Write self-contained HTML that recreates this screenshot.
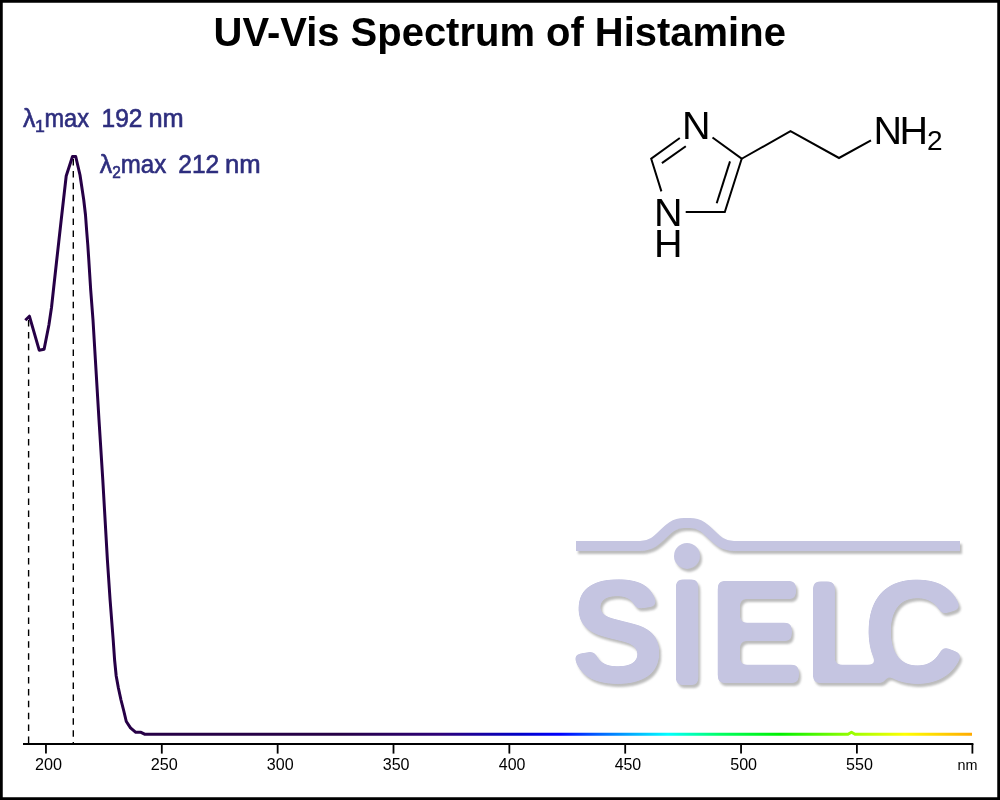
<!DOCTYPE html>
<html><head><meta charset="utf-8"><title>UV-Vis Spectrum of Histamine</title>
<style>
html,body{margin:0;padding:0;background:#fff;}
body{width:1000px;height:800px;overflow:hidden;}
svg{display:block;}
</style></head><body>
<svg width="1000" height="800" viewBox="0 0 1000 800">
<defs>
<linearGradient id="spec" gradientUnits="userSpaceOnUse" x1="0" y1="0" x2="1000" y2="0"><stop offset="0.0000" stop-color="#260046"/><stop offset="0.3400" stop-color="#260046"/><stop offset="0.4400" stop-color="#2d0078"/><stop offset="0.5200" stop-color="#0000c8"/><stop offset="0.5600" stop-color="#0000ff"/><stop offset="0.6000" stop-color="#0064ff"/><stop offset="0.6680" stop-color="#00ffff"/><stop offset="0.7200" stop-color="#00ff64"/><stop offset="0.7800" stop-color="#00f000"/><stop offset="0.8600" stop-color="#aaff00"/><stop offset="0.9050" stop-color="#ffff00"/><stop offset="0.9720" stop-color="#ffaa00"/><stop offset="1.0000" stop-color="#ffaa00"/></linearGradient>
<filter id="logo" x="560" y="505" width="420" height="200" filterUnits="userSpaceOnUse" color-interpolation-filters="sRGB">
<feGaussianBlur in="SourceAlpha" stdDeviation="1.1"/><feOffset dx="2.2" dy="2.8" result="so"/>
<feFlood flood-color="#8c8c8c" flood-opacity="0.58"/><feComposite in2="so" operator="in" result="shadow"/>
<feMerge><feMergeNode in="shadow"/><feMergeNode in="SourceGraphic"/></feMerge>
</filter>
<filter id="rnd" x="540" y="555" width="480" height="150" filterUnits="userSpaceOnUse" color-interpolation-filters="sRGB">
<feGaussianBlur in="SourceAlpha" stdDeviation="3.5" result="bl"/>
<feComponentTransfer in="bl" result="th"><feFuncA type="linear" slope="12" intercept="-5.5"/></feComponentTransfer>
<feFlood flood-color="#c5c5e1"/><feComposite in2="th" operator="in"/>
</filter>
</defs>
<rect x="0" y="0" width="1000" height="800" fill="#fff"/>

<g filter="url(#logo)" fill="#c5c5e1">
<path d="M576,546 L640,546 C662,546 664,523 684,523 L690,523 C710,523 712,546 734,546 L960,546" fill="none" stroke="#c5c5e1" stroke-width="10"/>
<circle cx="687" cy="555.9" r="13"/>
<text filter="url(#rnd)" transform="scale(0.955,1)" y="681.80" font-family="Liberation Sans, Arial, sans-serif" font-weight="bold" font-size="144.6" stroke="#c5c5e1" stroke-width="2.0" stroke-linejoin="round"><tspan x="597.73" textLength="97.60" lengthAdjust="spacingAndGlyphs">S</tspan><tspan x="698.79" dy="2.10" font-size="149.7">I</tspan><tspan x="742.64" dy="-2.10" textLength="98.52" lengthAdjust="spacingAndGlyphs">E</tspan><tspan x="842.64">L</tspan><tspan x="904.49" textLength="105.68" lengthAdjust="spacingAndGlyphs">C</tspan></text>
</g>

<text x="213.61" y="45.5" textLength="572.25" lengthAdjust="spacingAndGlyphs" font-family="Liberation Sans, Arial, sans-serif" font-weight="bold" font-size="41" fill="#000">UV-Vis Spectrum of Histamine</text>

<g font-family="Liberation Sans, Arial, sans-serif" font-size="25" fill="#2e2e7e" stroke="#2e2e7e" stroke-width="0.6">
<text y="126.60"><tspan x="23.03" textLength="12.39" lengthAdjust="spacingAndGlyphs">λ</tspan><tspan x="35.06" textLength="9.80" lengthAdjust="spacingAndGlyphs" font-size="16" dy="5.2">1</tspan><tspan x="44.43" textLength="44.62" lengthAdjust="spacingAndGlyphs" dy="-5.2">max</tspan><tspan x="101.53" textLength="40.90" lengthAdjust="spacingAndGlyphs">192</tspan><tspan x="148.51" textLength="35.26" lengthAdjust="spacingAndGlyphs">nm</tspan></text>
<text y="172.80"><tspan x="99.83" textLength="12.39" lengthAdjust="spacingAndGlyphs">λ</tspan><tspan x="112.23" textLength="8.55" lengthAdjust="spacingAndGlyphs" font-size="16" dy="4.8">2</tspan><tspan x="120.80" textLength="45.46" lengthAdjust="spacingAndGlyphs" dy="-4.8">max</tspan><tspan x="178.37" textLength="40.86" lengthAdjust="spacingAndGlyphs">212</tspan><tspan x="224.99" textLength="35.70" lengthAdjust="spacingAndGlyphs">nm</tspan></text>
</g>

<g stroke="#000" stroke-width="2" fill="none">
<path d="M679.8,138 L651.2,158.7 L661.4,191.4"/>
<path d="M685.8,146.2 L661.9,163.1"/>
<path d="M712.5,137.5 L741.7,158.75 L724.8,212.1 L685.7,212.1"/>
<path d="M716.7,203.2 L730,161.4"/>
<path d="M741.7,158.75 L790.5,131.2 L839,158 L871,140.3"/>
</g>
<g font-family="Liberation Sans, Arial, sans-serif" font-size="39.5" fill="#000">
<text x="682.0" y="139.1">N</text>
<text x="654.0" y="225.6">N</text>
<text x="654.0" y="257.1">H</text>
<text x="873.5" y="144.3">N<tspan x="899.6">H</tspan><tspan x="926.9" y="150.1" font-size="28">2</tspan></text>
</g>

<g stroke="#000" stroke-width="1.4" stroke-dasharray="6.5,5.4">
<line x1="28.6" y1="320" x2="28.6" y2="744"/>
<line x1="73.3" y1="159" x2="73.3" y2="744"/>
</g>

<g stroke="#000" stroke-width="1.8" fill="none">
<line x1="23" y1="744" x2="973.4" y2="744"/>
<line x1="45.95" y1="744" x2="45.95" y2="753.6"/><line x1="161.80" y1="744" x2="161.80" y2="753.6"/><line x1="277.65" y1="744" x2="277.65" y2="753.6"/><line x1="393.50" y1="744" x2="393.50" y2="753.6"/><line x1="509.35" y1="744" x2="509.35" y2="753.6"/><line x1="625.20" y1="744" x2="625.20" y2="753.6"/><line x1="741.05" y1="744" x2="741.05" y2="753.6"/><line x1="856.90" y1="744" x2="856.90" y2="753.6"/>
<line x1="972.4" y1="744" x2="972.4" y2="753.6"/>
</g>
<g font-family="Liberation Sans, Arial, sans-serif" font-size="17" fill="#000">
<text x="34.93" y="770" textLength="27.05" lengthAdjust="spacingAndGlyphs">200</text><text x="150.78" y="770" textLength="27.05" lengthAdjust="spacingAndGlyphs">250</text><text x="266.84" y="770" textLength="26.84" lengthAdjust="spacingAndGlyphs">300</text><text x="382.69" y="770" textLength="26.84" lengthAdjust="spacingAndGlyphs">350</text><text x="498.78" y="770" textLength="26.59" lengthAdjust="spacingAndGlyphs">400</text><text x="614.63" y="770" textLength="26.59" lengthAdjust="spacingAndGlyphs">450</text><text x="730.21" y="770" textLength="26.87" lengthAdjust="spacingAndGlyphs">500</text><text x="846.06" y="770" textLength="26.87" lengthAdjust="spacingAndGlyphs">550</text>
</g>
<text x="957.5" y="770.1" font-family="Liberation Sans, Arial, sans-serif" font-size="14.4" fill="#000">nm</text>

<path d="M25.3,320.2 L29.4,316.2 L39.2,350.2 L44.1,349.3 L48.9,325 L51.5,307.5 L53.75,287 L56.4,263 L58.8,241.5 L61.2,220 L63.7,198 L66.2,176 L72.5,156.5 L75.7,156.5 L80,175 L83.75,200 L85.5,215 L86.6,230 L87.8,245 L88.8,260 L90.7,290 L93,320 L95.4,360 L99,420 L102.8,480 L107.4,560 L110.1,600 L113.2,640 L114.6,660 L116.2,676 L118.4,688 L121,700 L123.8,711 L126.3,721.5 L130.5,727.8 L135.8,732.3 L141,732.3 L144.6,734.2 L848,734.2 L851.5,732.2 L855,734.2 L972,734.2" fill="none" stroke="url(#spec)" stroke-width="3" stroke-linejoin="round" stroke-linecap="butt"/>

<rect x="0" y="0" width="1000" height="800" fill="none" stroke="#000" stroke-width="5.5"/>
</svg>
</body></html>
